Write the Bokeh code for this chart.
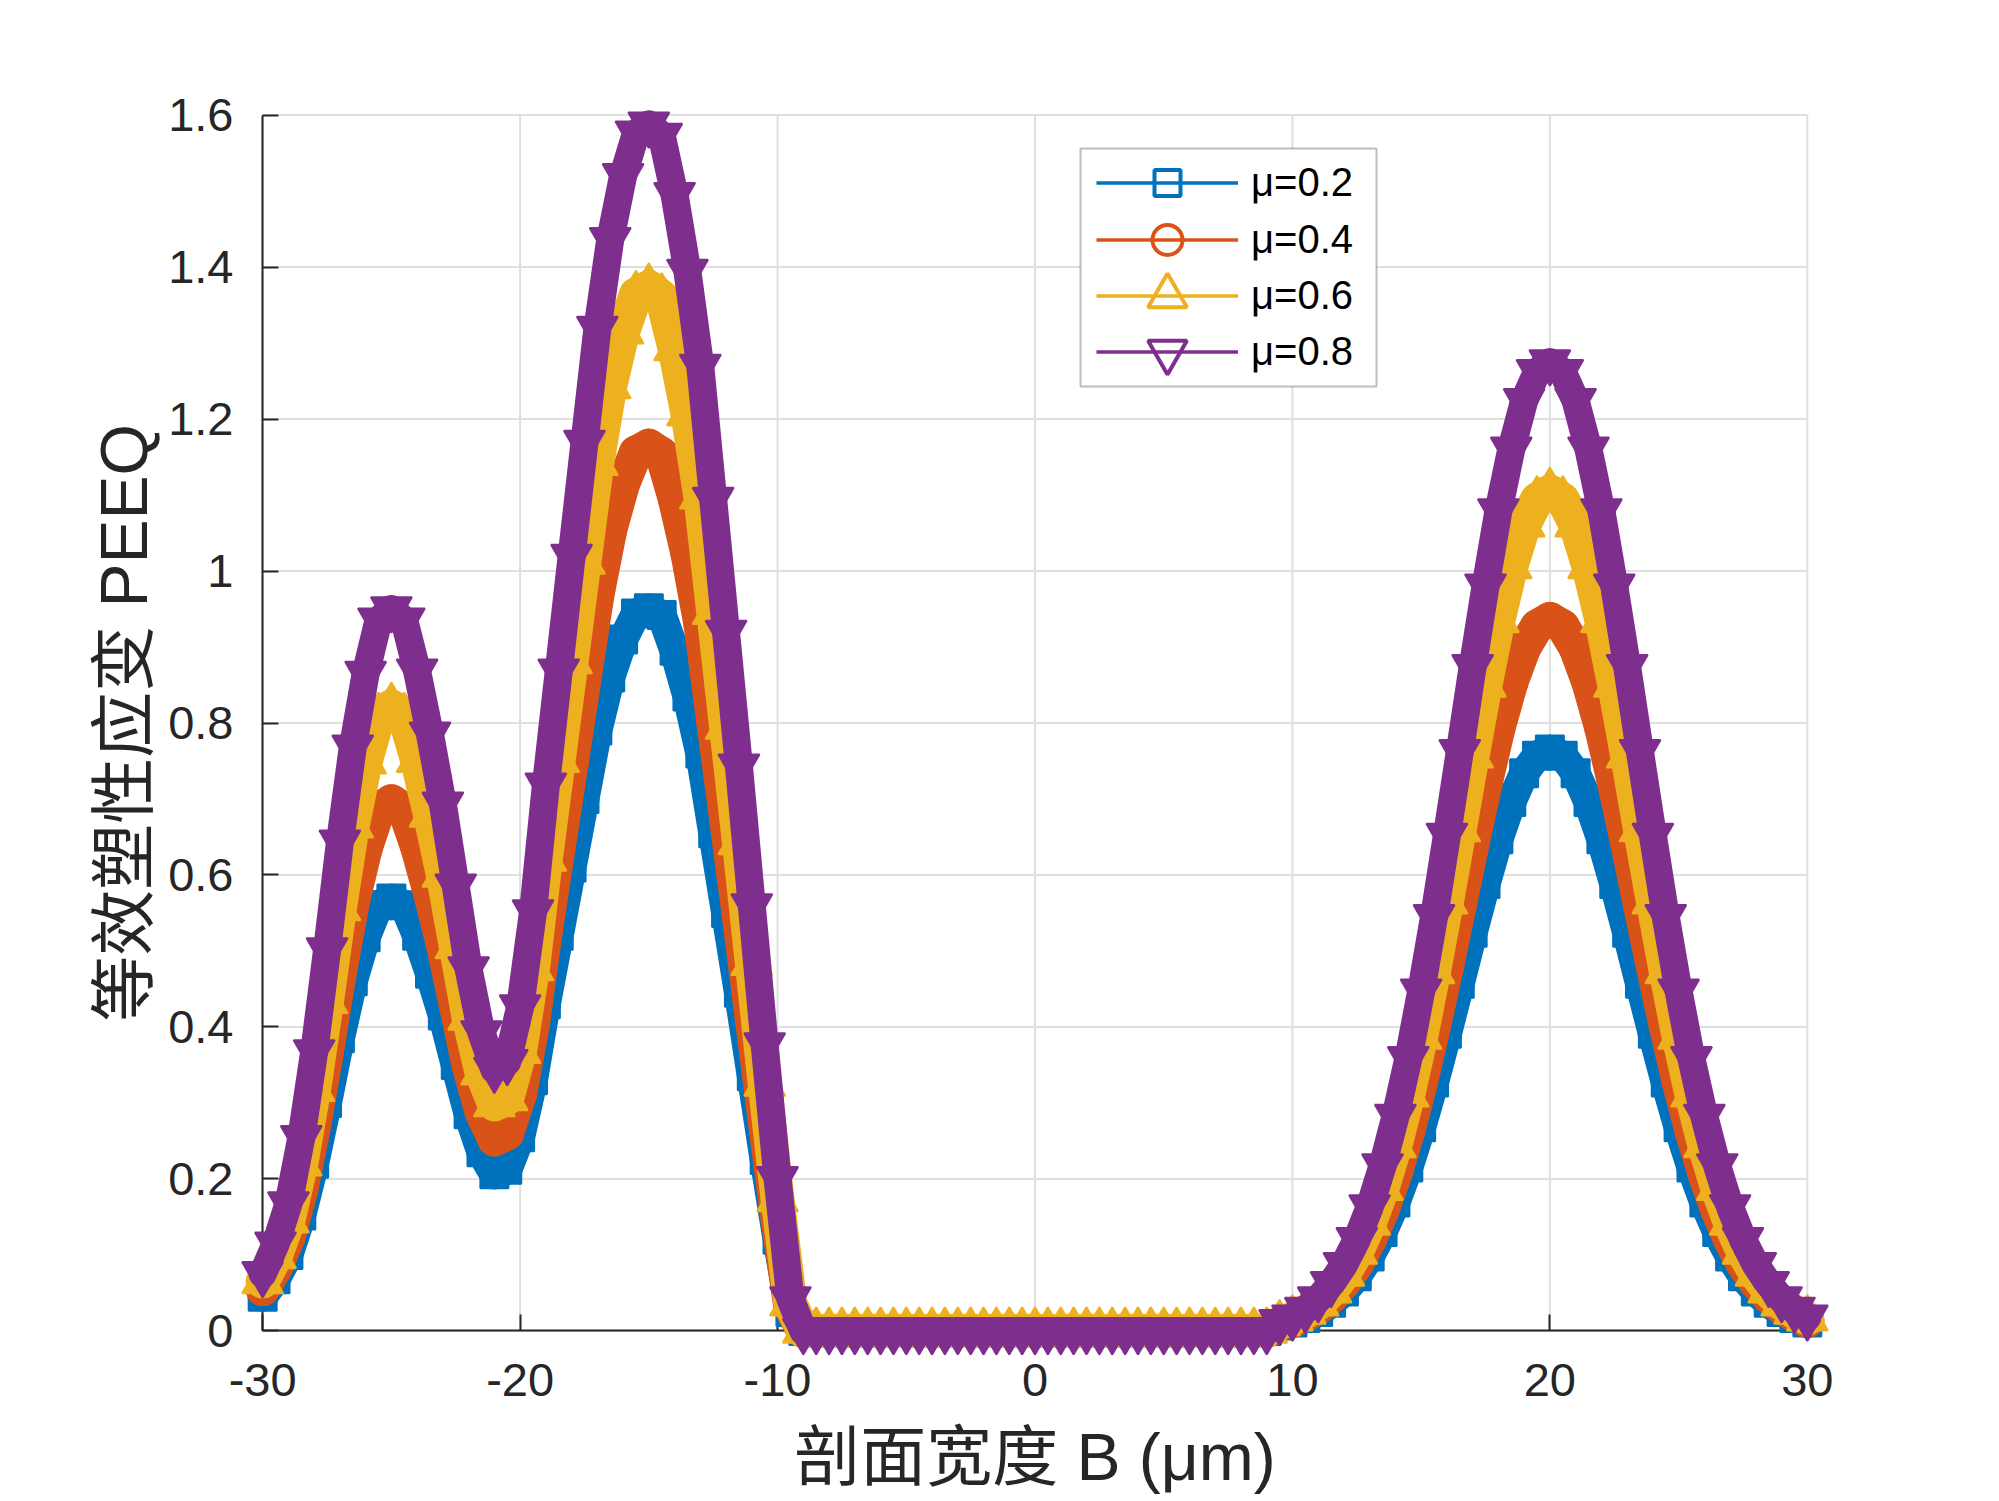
import math
from bokeh.plotting import figure
from bokeh.models import Range1d, FixedTicker, Legend, LegendItem, LinearAxis, BoxAnnotation
from bokeh.embed import file_html
from bokeh.resources import INLINE

# ---------------- data ----------------
x_um = [
    -30.0, -29.5, -29.0, -28.5, -28.0, -27.5, -27.0, -26.5, -26.0, -25.5,
    -25.0, -24.5, -24.0, -23.5, -23.0, -22.5, -22.0, -21.5, -21.0, -20.5,
    -20.0, -19.5, -19.0, -18.5, -18.0, -17.5, -17.0, -16.5, -16.0, -15.5,
    -15.0, -14.5, -14.0, -13.5, -13.0, -12.5, -12.0, -11.5, -11.0, -10.5,
    -10.0, -9.5,
    -9.0, -8.5, -8.0, -7.5, -7.0, -6.5, -6.0, -5.5, -5.0, -4.5,
    -4.0, -3.5, -3.0, -2.5, -2.0, -1.5, -1.0, -0.5, 0.0, 0.5,
    1.0, 1.5, 2.0, 2.5, 3.0, 3.5, 4.0, 4.5, 5.0, 5.5,
    6.0, 6.5, 7.0, 7.5, 8.0, 8.5, 9.0,
    9.5, 10.0, 10.5, 11.0, 11.5, 12.0, 12.5, 13.0, 13.5, 14.0,
    14.5, 15.0, 15.5, 16.0, 16.5, 17.0, 17.5, 18.0, 18.5, 19.0,
    19.5, 20.0, 20.5, 21.0, 21.5, 22.0, 22.5, 23.0, 23.5, 24.0,
    24.5, 25.0, 25.5, 26.0, 26.5, 27.0, 27.5, 28.0, 28.5, 29.0,
    29.5, 30.0,
]

peeq_mu02 = [
    0.045, 0.068, 0.100, 0.152, 0.220, 0.300, 0.385, 0.460, 0.518, 0.560,
    0.569, 0.560, 0.520, 0.470, 0.415, 0.350, 0.285, 0.235, 0.206, 0.212,
    0.255, 0.330, 0.430, 0.520, 0.610, 0.700, 0.790, 0.860, 0.910, 0.944,
    0.951, 0.942, 0.895, 0.835, 0.760, 0.655, 0.550, 0.445, 0.335, 0.225,
    0.120, 0.025,
    0, 0, 0, 0, 0, 0, 0, 0, 0, 0, 0, 0, 0, 0, 0, 0, 0, 0, 0,
    0, 0, 0, 0, 0, 0, 0, 0, 0, 0, 0, 0, 0, 0, 0, 0, 0, 0,
    0.007, 0.011, 0.017, 0.025, 0.037, 0.052, 0.072, 0.098, 0.130, 0.169,
    0.215, 0.268, 0.327, 0.391, 0.457, 0.524, 0.588, 0.647, 0.696, 0.734,
    0.757, 0.765, 0.757, 0.734, 0.696, 0.647, 0.588, 0.524, 0.457, 0.391,
    0.327, 0.268, 0.215, 0.169, 0.130, 0.098, 0.072, 0.052, 0.037, 0.025,
    0.017, 0.011,
]

peeq_mu04 = [
    0.055, 0.083, 0.123, 0.186, 0.270, 0.368, 0.472, 0.564, 0.635, 0.686,
    0.697, 0.686, 0.637, 0.576, 0.508, 0.429, 0.349, 0.288, 0.252, 0.260,
    0.312, 0.404, 0.527, 0.637, 0.747, 0.858, 0.968, 1.054, 1.115, 1.156,
    1.165, 1.154, 1.096, 1.023, 0.931, 0.802, 0.674, 0.545, 0.410, 0.276,
    0.147, 0.031,
    0, 0, 0, 0, 0, 0, 0, 0, 0, 0, 0, 0, 0, 0, 0, 0, 0, 0, 0,
    0, 0, 0, 0, 0, 0, 0, 0, 0, 0, 0, 0, 0, 0, 0, 0, 0, 0,
    0.009, 0.013, 0.021, 0.031, 0.045, 0.064, 0.088, 0.120, 0.159, 0.207,
    0.263, 0.328, 0.401, 0.479, 0.560, 0.642, 0.720, 0.793, 0.853, 0.899,
    0.927, 0.937, 0.927, 0.899, 0.853, 0.793, 0.720, 0.642, 0.560, 0.479,
    0.401, 0.328, 0.263, 0.207, 0.159, 0.120, 0.088, 0.064, 0.045, 0.031,
    0.021, 0.013,
]

peeq_mu06 = [
    0.065, 0.098, 0.145, 0.220, 0.318, 0.434, 0.556, 0.665, 0.749, 0.809,
    0.822, 0.809, 0.751, 0.679, 0.600, 0.506, 0.412, 0.340, 0.298, 0.306,
    0.368, 0.477, 0.621, 0.751, 0.881, 1.012, 1.142, 1.243, 1.315, 1.364,
    1.374, 1.361, 1.293, 1.207, 1.098, 0.946, 0.795, 0.643, 0.484, 0.325,
    0.173, 0.036,
    0, 0, 0, 0, 0, 0, 0, 0, 0, 0, 0, 0, 0, 0, 0, 0, 0, 0, 0,
    0, 0, 0, 0, 0, 0, 0, 0, 0, 0, 0, 0, 0, 0, 0, 0, 0, 0,
    0.010, 0.016, 0.025, 0.036, 0.053, 0.075, 0.104, 0.142, 0.188, 0.244,
    0.311, 0.387, 0.473, 0.565, 0.660, 0.757, 0.850, 0.935, 1.006, 1.061,
    1.094, 1.105, 1.094, 1.061, 1.006, 0.935, 0.850, 0.757, 0.660, 0.565,
    0.473, 0.387, 0.311, 0.244, 0.188, 0.142, 0.104, 0.075, 0.053, 0.036,
    0.025, 0.016,
]

peeq_mu08 = [
    0.075, 0.114, 0.167, 0.254, 0.367, 0.501, 0.643, 0.768, 0.865, 0.935,
    0.950, 0.935, 0.868, 0.785, 0.693, 0.585, 0.476, 0.392, 0.344, 0.354,
    0.426, 0.551, 0.718, 0.868, 1.019, 1.169, 1.319, 1.436, 1.520, 1.576,
    1.588, 1.573, 1.495, 1.394, 1.269, 1.094, 0.919, 0.743, 0.559, 0.376,
    0.200, 0.042,
    0, 0, 0, 0, 0, 0, 0, 0, 0, 0, 0, 0, 0, 0, 0, 0, 0, 0, 0,
    0, 0, 0, 0, 0, 0, 0, 0, 0, 0, 0, 0, 0, 0, 0, 0, 0, 0,
    0.012, 0.018, 0.028, 0.042, 0.062, 0.087, 0.120, 0.163, 0.217, 0.282,
    0.358, 0.447, 0.545, 0.652, 0.762, 0.874, 0.980, 1.079, 1.160, 1.224,
    1.262, 1.275, 1.262, 1.224, 1.160, 1.079, 0.980, 0.874, 0.762, 0.652,
    0.545, 0.447, 0.358, 0.282, 0.217, 0.163, 0.120, 0.087, 0.062, 0.042,
    0.028, 0.018,
]

series_labels = ["μ=0.2", "μ=0.4", "μ=0.6", "μ=0.8"]
x_ticks = [-30, -20, -10, 0, 10, 20, 30]
x_tick_labels = ["-30", "-20", "-10", "0", "10", "20", "30"]
y_ticks = [0, 0.2, 0.4, 0.6, 0.8, 1, 1.2, 1.4, 1.6]
y_tick_labels = ["0", "0.2", "0.4", "0.6", "0.8", "1", "1.2", "1.4", "1.6"]
x_title = "剖面宽度 B (μm)"
y_title = "等效塑性应变 PEEQ"

series = [peeq_mu02, peeq_mu04, peeq_mu06, peeq_mu08]
assert all(len(s) == len(x_um) for s in series)

# ---------------- styles ----------------
colors = ["#0072BD", "#D95319", "#EDB120", "#7E2F8E"]
marker_types = ["square", "circle", "triangle", "inverted_triangle"]
marker_sizes = [28, 32, 41, 41]
band_widths = [30, 34, 34, 28]
key_glyph_heights = [65, 75, 97, 97]     # legend marker size = 0.4 * glyph height
key_row_centers = [182, 239, 295, 351]   # px from top of picture
AX = "#262626"
GRID = "#dfdfdf"
FONT = "Liberation Sans"
CJK_FONT = "Liberation Sans, Noto Sans CJK SC"

W, H = 1980, 1501
BORDER_L, BORDER_T, FRAME_W, FRAME_H = 239, 88, 1591, 1269
FRAME_BOTTOM = BORDER_T + FRAME_H

p = figure(
    width=W, height=H,
    x_range=Range1d(-30.9, 30.9), y_range=Range1d(-0.035, 1.635),
    output_backend="svg", toolbar_location=None,
    min_border_left=BORDER_L, min_border_right=W - BORDER_L - FRAME_W,
    min_border_top=BORDER_T, min_border_bottom=H - BORDER_T - FRAME_H,
)
p.outline_line_color = None
p.background_fill_color = "white"
p.border_fill_color = "white"
p.xgrid.visible = False
p.ygrid.visible = False

# grid lines limited to the axes box
p.segment(x0=x_ticks, y0=[y_ticks[0]] * len(x_ticks), x1=x_ticks, y1=[y_ticks[-1]] * len(x_ticks),
          line_color=GRID, line_width=2, level="image")
p.segment(x0=[x_ticks[0]] * len(y_ticks), y0=y_ticks, x1=[x_ticks[-1]] * len(y_ticks), y1=y_ticks,
          line_color=GRID, line_width=2, level="image")

# primary axes: tick labels and titles only (at the frame edges)
xa = p.xaxis[0]
ya = p.yaxis[0]
xa.ticker = FixedTicker(ticks=x_ticks)
xa.major_label_overrides = dict(zip(x_ticks, x_tick_labels))
xa.major_label_standoff = 0
xa.axis_label = x_title
xa.axis_label_standoff = 21
ya.ticker = FixedTicker(ticks=y_ticks)
ya.major_label_overrides = dict(zip(y_ticks, y_tick_labels))
ya.major_label_standoff = 0
ya.axis_label = y_title
ya.axis_label_standoff = 4
for ax in (xa, ya):
    ax.axis_line_color = None
    ax.major_tick_line_color = None
    ax.minor_tick_line_color = None
    ax.major_label_text_font = FONT
    ax.major_label_text_font_size = "47px"
    ax.major_label_text_color = AX
    ax.axis_label_text_font = CJK_FONT
    ax.axis_label_text_font_size = "66px"
    ax.axis_label_text_font_style = "normal"
    ax.axis_label_text_color = AX

# axis lines with inward ticks at x=-30 / y=0, drawn beneath the data (no labels)
x_line_axis = LinearAxis(fixed_location=0, bounds=(x_ticks[0], x_ticks[-1]),
                         ticker=FixedTicker(ticks=x_ticks))
y_line_axis = LinearAxis(fixed_location=x_ticks[0], bounds=(y_ticks[0], y_ticks[-1]),
                         ticker=FixedTicker(ticks=y_ticks))
for ax in (x_line_axis, y_line_axis):
    ax.level = "underlay"
    ax.axis_line_color = AX
    ax.axis_line_width = 2
    ax.major_tick_line_color = AX
    ax.major_tick_line_width = 2
    ax.major_tick_in = 16
    ax.major_tick_out = 0
    ax.minor_tick_line_color = None
    ax.major_label_text_alpha = 0
    ax.major_label_text_color = None
    ax.major_label_text_font_size = "1px"
    ax.major_label_standoff = 0
p.add_layout(x_line_axis, "below")
p.add_layout(y_line_axis, "left")

# data series
for ys, c, m, s, w in zip(series, colors, marker_types, marker_sizes, band_widths):
    p.line(x_um, ys, line_color=c, line_width=w, line_join="round", line_cap="round")
    p.scatter(x_um, ys, marker=m, size=s, fill_color=c, line_color=c, line_width=2)

# legend box
p.add_layout(BoxAnnotation(
    left=1080 - BORDER_L, right=1376 - BORDER_L,
    bottom=FRAME_BOTTOM - 386, top=FRAME_BOTTOM - 148,
    left_units="screen", right_units="screen", top_units="screen", bottom_units="screen",
    fill_color="white", fill_alpha=1.0, line_color=AX, line_width=2,
))

# legend key rows (hollow markers on thin lines); NaN rows draw nothing in the plot
nan = float("nan")
for lab, c, m, gh, cy in zip(series_labels, colors, marker_types, key_glyph_heights, key_row_centers):
    lr = p.line(x=[nan], y=[nan], line_color=c, line_width=3.5)
    sr = p.scatter(x=[nan], y=[nan], marker=m, size=20, fill_color=None, line_color=c, line_width=4)
    lg = Legend(
        items=[LegendItem(label=lab, renderers=[lr, sr])],
        location=(1096 - BORDER_L, FRAME_BOTTOM - (cy + gh / 2)),
        glyph_width=142, glyph_height=gh, spacing=0, padding=0,
        label_standoff=13, label_width=100, label_height=20,
        label_text_font=FONT, label_text_font_size="40px", label_text_color="black",
        border_line_color=None, background_fill_alpha=0.0, margin=0,
    )
    p.add_layout(lg, "center")

open("out.html", "w").write(file_html(p, INLINE))
